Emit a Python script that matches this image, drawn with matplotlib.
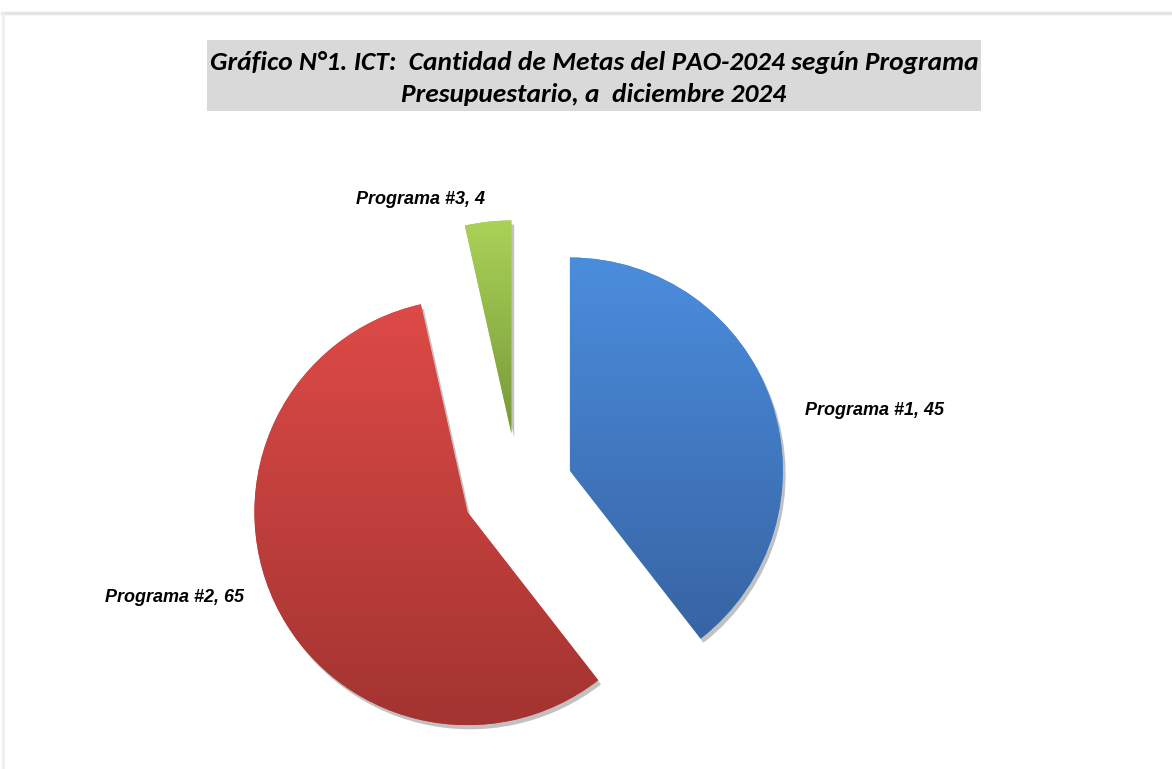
import matplotlib

matplotlib.use("Agg")
import matplotlib.pyplot as plt
import numpy as np
from matplotlib import patheffects as pe
from matplotlib.colors import LinearSegmentedColormap
from matplotlib.lines import Line2D
from matplotlib.patches import Rectangle

# Datos del gráfico
programas = ["Programa #1", "Programa #2", "Programa #3"]
metas = [45, 65, 4]
color_claro = ["#4b8ddd", "#dd4a47", "#abd257"]
color_oscuro = ["#3764a3", "#a33431", "#76993a"]

titulo_l1 = "Gráfico N°1. ICT:  Cantidad de Metas del PAO-2024 según Programa"
titulo_l2 = "Presupuestario, a  diciembre 2024"

W, H = 1172, 769
R_PX = 213.0          # radio del pastel en píxeles
CX, CY = 517.5, 488.5  # centro del pastel (píxeles, y hacia abajo)

fig = plt.figure(figsize=(W / 100, H / 100), dpi=100, facecolor="white")
ax = fig.add_axes([0, 0, 1, 1])

wedges, _ = ax.pie(
    metas,
    startangle=90,
    counterclock=False,
    radius=1.0,
    explode=[0.26, 0.26, 0.26],
    colors=color_claro,
    wedgeprops=dict(edgecolor="none", linewidth=0),
)

# degradado vertical recortado a cada sector + sombra suave
for w, c1, c2 in zip(wedges, color_claro, color_oscuro):
    w.set_path_effects(
        [
            pe.SimplePatchShadow(offset=(2, -3), shadow_rgbFace="#777777", alpha=0.45),
            pe.Normal(),
        ]
    )
    ext = w.get_path().get_extents()
    cmap = LinearSegmentedColormap.from_list("g", [c2, c1])
    grad = np.linspace(0, 1, 256).reshape(-1, 1)
    im = ax.imshow(
        grad,
        cmap=cmap,
        origin="lower",
        aspect="auto",
        interpolation="bicubic",
        extent=[ext.x0, ext.x1, ext.y0, ext.y1],
        zorder=w.get_zorder() + 0.1,
    )
    im.set_clip_path(w)

ax.set_xlim((0 - CX) / R_PX, (W - CX) / R_PX)
ax.set_ylim((CY - H) / R_PX, CY / R_PX)
ax.set_aspect("equal")
ax.axis("off")


def px(x, y):
    return x / W, 1 - y / H


# etiquetas de datos
etiq_font = dict(
    family=["Liberation Sans", "DejaVu Sans"],
    fontsize=13,
    fontweight="bold",
    fontstyle="italic",
    color="black",
)
pos_etiq = [(805, 410, "left"), (244, 598, "right"), (356, 199, "left")]
for nombre, valor, (x, y, ha) in zip(programas, metas, pos_etiq):
    fig.text(*px(x, y), f"{nombre}, {valor}", ha=ha, va="center", **etiq_font)

# caja del título
x0, y0 = px(207, 111)
x1, y1 = px(981, 40)
fig.add_artist(
    Rectangle((x0, y0), x1 - x0, y1 - y0, transform=fig.transFigure,
              facecolor="#d9d9d9", edgecolor="none", zorder=1)
)
tit_font = dict(
    family=["Carlito", "Lato", "DejaVu Sans"],
    fontsize=19.7,
    fontweight="bold",
    fontstyle="italic",
    ha="center",
    va="center",
    zorder=2,
)
fig.text(*px(594, 62), titulo_l1, **tit_font)
fig.text(*px(594, 94), titulo_l2, **tit_font)

# marco exterior gris claro
fig.add_artist(Line2D([2 / W, 1], [1 - 13 / H] * 2, transform=fig.transFigure,
                      color="#e4e4e4", lw=2.5))
fig.add_artist(Line2D([3 / W] * 2, [0, 1 - 13 / H], transform=fig.transFigure,
                      color="#eeeeee", lw=2))

fig.savefig("out.png", dpi=100, facecolor="white")
